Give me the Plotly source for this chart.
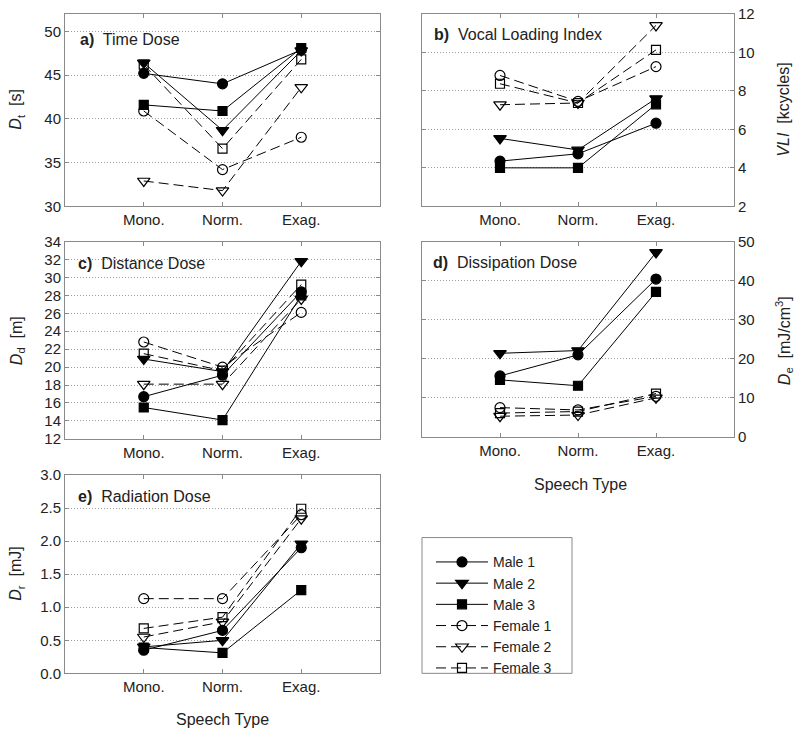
import plotly.graph_objects as go

W, H = 800, 739

categories = ["Mono.", "Norm.", "Exag."]
speakers = ["Male 1", "Male 2", "Male 3", "Female 1", "Female 2", "Female 3"]

time_dose = {
    "Male 1": [45.2, 44.0, 47.9],
    "Male 2": [46.4, 38.7, 47.8],
    "Male 3": [41.6, 40.9, 48.1],
    "Female 1": [40.9, 34.2, 37.9],
    "Female 2": [32.9, 31.8, 43.6],
    "Female 3": [46.2, 36.6, 46.8],
}
vli = {
    "Male 1": [4.35, 4.73, 6.32],
    "Male 2": [5.53, 4.93, 7.6],
    "Male 3": [4.0, 4.0, 7.3],
    "Female 1": [8.8, 7.45, 9.26],
    "Female 2": [7.28, 7.37, 11.4],
    "Female 3": [8.37, 7.37, 10.13],
}
distance_dose = {
    "Male 1": [16.7, 19.1, 28.4],
    "Male 2": [20.9, 19.5, 31.8],
    "Male 3": [15.5, 14.1, 28.0],
    "Female 1": [22.8, 20.0, 26.1],
    "Female 2": [18.1, 18.1, 27.6],
    "Female 3": [21.5, 19.6, 29.2],
}
dissipation_dose = {
    "Male 1": [15.6, 21.0, 40.4],
    "Male 2": [21.4, 22.1, 47.2],
    "Male 3": [14.6, 13.1, 37.1],
    "Female 1": [7.5, 6.9, 10.4],
    "Female 2": [5.3, 5.6, 10.0],
    "Female 3": [6.1, 6.5, 11.1],
}
radiation_dose = {
    "Male 1": [0.35, 0.65, 1.90],
    "Male 2": [0.40, 0.50, 1.96],
    "Male 3": [0.39, 0.31, 1.26],
    "Female 1": [1.13, 1.13, 2.40],
    "Female 2": [0.55, 0.78, 2.34],
    "Female 3": [0.68, 0.85, 2.49],
}

styles = {
    "Male 1": dict(symbol="circle", size=10, dash="solid"),
    "Male 2": dict(symbol="triangle-down", size=11, dash="solid"),
    "Male 3": dict(symbol="square", size=9, dash="solid"),
    "Female 1": dict(symbol="circle-open", size=10, dash="10px,5px"),
    "Female 2": dict(symbol="triangle-down-open", size=11, dash="10px,5px"),
    "Female 3": dict(symbol="square-open", size=9, dash="10px,5px"),
}

def px_x(p):
    return p / W

def px_y(p):
    return 1 - p / H

panels = [
    (time_dose, "x", "y", 65, 380, 5, 202, [30, 52], 5, "left", None),
    (vli, "x2", "y2", 422, 734, 5, 202, [2, 12], 2, "right", None),
    (distance_dose, "x3", "y3", 65, 380, 238, 440, [12, 34], 2, "left", None),
    (dissipation_dose, "x4", "y4", 422, 734, 238, 438, [0, 50], 10, "right", None),
    (radiation_dose, "x5", "y5", 65, 380, 477, 680, [0, 3], 0.5, "left", ".1f"),
]

fig = go.Figure()
FONT = "Liberation Sans, Arial, sans-serif"
TXT = "#222222"
FRAME = "#8a8a8a"

layout = {}
for i, (data, xa, ya, x0, x1, y0, y1, rng, dt, side, fmt) in enumerate(panels):
    for s in speakers:
        st = styles[s]
        fig.add_trace(go.Scatter(
            x=[0, 1, 2], y=data[s], mode="lines+markers", name=s,
            xaxis=xa, yaxis=ya, showlegend=(i == 0),
            line=dict(color="black", width=1, dash=st["dash"]),
            marker=dict(symbol=st["symbol"], size=st["size"], color="black",
                        line=dict(color="black", width=1.2)),
        ))
    xkey = "xaxis" + ("" if xa == "x" else xa[1:])
    ykey = "yaxis" + ("" if ya == "y" else ya[1:])
    layout[xkey] = dict(
        domain=[px_x(x0), px_x(x1)], range=[-1, 3], anchor=ya,
        tickvals=[0, 1, 2], ticktext=categories, showgrid=False,
        showline=True, linecolor=FRAME, linewidth=1, mirror="ticks",
        ticks="inside", ticklen=4, tickcolor=FRAME, zeroline=False,
        tickfont=dict(size=15, color=TXT, family=FONT),
    )
    ykw = dict(
        domain=[px_y(y1), px_y(y0)], range=rng, dtick=dt, anchor=xa,
        side=side, showgrid=True, gridcolor="#a0a0a0", griddash="1px,2px",
        gridwidth=1, showline=True, linecolor=FRAME, linewidth=1,
        mirror="ticks", ticks="inside", ticklen=4, tickcolor=FRAME,
        zeroline=False, tickfont=dict(size=15, color=TXT, family=FONT),
    )
    if fmt:
        ykw["tickformat"] = fmt
    layout[ykey] = ykw

fig.update_layout(**layout)

titles = [
    ("<b>a)</b>  Time Dose", 78, 31),
    ("<b>b)</b>  Vocal Loading Index", 432, 26),
    ("<b>c)</b>  Distance Dose", 76, 260),
    ("<b>d)</b>  Dissipation Dose", 431, 259),
    ("<b>e)</b>  Radiation Dose", 76, 499),
]
ann = []
for t, x, y in titles:
    ann.append(dict(text=t, x=px_x(x), y=px_y(y), xref="paper", yref="paper",
                    xanchor="left", yanchor="middle", showarrow=False,
                    font=dict(size=16, color=TXT, family=FONT)))

ytitles = [
    ("<i>D</i><sub>t</sub>  [s]", 17, 103),
    ("<i>VLI</i>  [kcycles]", 784, 103),
    ("<i>D</i><sub>d</sub>  [m]", 17, 340),
    ("<i>D</i><sub>e</sub>  [mJ/cm<sup>3</sup>]", 784, 340),
    ("<i>D</i><sub>r</sub>  [mJ]", 17, 578),
]
for t, x, y in ytitles:
    ann.append(dict(text=t, x=px_x(x), y=px_y(y), xref="paper", yref="paper",
                    xanchor="center", yanchor="middle", showarrow=False,
                    textangle=-90, font=dict(size=16, color=TXT, family=FONT)))

for x, y in [(580, 487), (222, 727)]:
    ann.append(dict(text="Speech Type", x=px_x(x), y=px_y(y), xref="paper",
                    yref="paper", xanchor="center", yanchor="middle",
                    showarrow=False, font=dict(size=16, color=TXT, family=FONT)))

fig.update_layout(
    width=W, height=H, margin=dict(l=0, r=0, t=0, b=0),
    paper_bgcolor="white", plot_bgcolor="white",
    annotations=ann,
    shapes=[dict(type="rect", xref="paper", yref="paper",
                 x0=px_x(422), x1=px_x(572), y0=px_y(680), y1=px_y(541),
                 line=dict(color=FRAME, width=1))],
    legend=dict(x=px_x(431), y=px_y(550), xanchor="left", yanchor="top",
                bgcolor="rgba(0,0,0,0)", borderwidth=0, itemwidth=52,
                tracegroupgap=0, font=dict(size=14, color=TXT, family=FONT)),
)

fig.write_html("out.html", config={"displayModeBar": False},
               post_script="document.body.style.margin='0';")
